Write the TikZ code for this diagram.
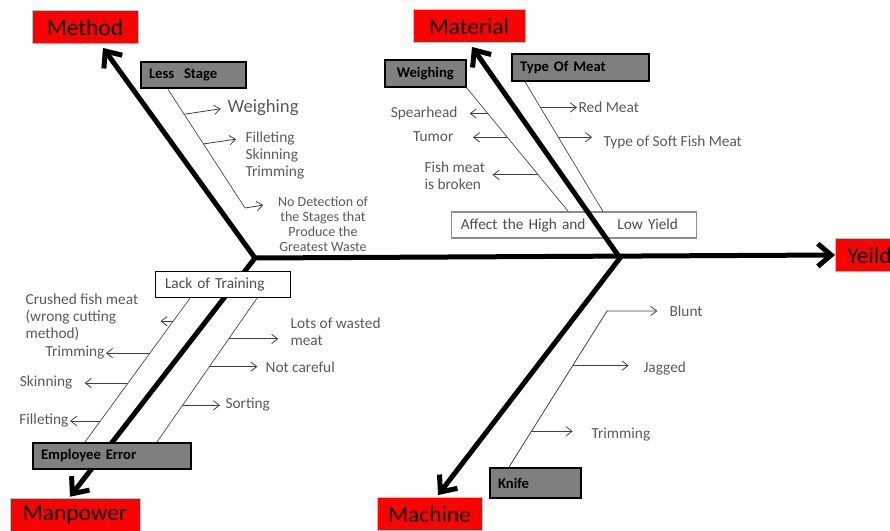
\documentclass[tikz,border=0pt]{standalone}
\usepackage{fontspec}
\setmainfont{Carlito}
\usetikzlibrary{positioning,calc,arrows.meta}
\definecolor{catred}{HTML}{FF0000}
\definecolor{subgray}{HTML}{7F7F7F}
\definecolor{txtgray}{HTML}{595959}

\begin{document}
\begin{tikzpicture}[x=0.75pt,y=-0.75pt,
  cat/.style={fill=catred,draw=black!25,font=\fontsize{17.5}{20}\selectfont,minimum height=25pt,inner sep=0pt},
  sub/.style={fill=subgray,draw=black,line width=1.5pt,font=\bfseries\fontsize{11}{13}\selectfont,minimum height=20pt,inner xsep=6pt,inner ysep=0pt,align=left},
  note/.style={draw=black!45,fill=white,line width=0.8pt,text=black!70,font=\fontsize{11.5}{13}\selectfont,minimum height=19.5pt,inner xsep=7pt,inner ysep=0pt,align=left},
  cause/.style={text=txtgray,font=\fontsize{11.5}{12.75}\selectfont,inner sep=1pt,align=left},
  bone/.style={line width=3.75pt,black},
  rib/.style={line width=0.5pt,black!75},
  twig/.style={line width=0.6pt,black!75,-{Straight Barb[length=4.5pt,width=7pt]}},
  bonetip/.style={{Straight Barb[length=10pt,width=17pt]}-{Straight Barb[length=10pt,width=17pt]}}]
  \useasboundingbox (0,0) rectangle (890,531);
  % categories
  \node[cat,minimum width=79.5pt] (method) at (85,27) {Method};
  \node[cat,minimum width=84pt] (material) at (469,26) {Material};
  \node[cat,minimum width=97.5pt] (manpower) at (75,515) {Manpower};
  \node[cat,minimum width=79pt] (machine) at (429.5,514) {Machine};
  \node[cat,anchor=west,inner xsep=9pt,text width=40pt,align=left] (yeild) at (835,255) {Yeild};
  % sub causes
  \node[sub,anchor=west,text width=66.5pt] (lessstage) at (140,75) {Less\ \ Stage};
  \node[sub,anchor=west,text width=48.5pt,align=center] (weighbox) at (384,73.5) {Weighing};
  \node[sub,anchor=west,text width=90.5pt] (meatbox) at (511,67.5) {Type Of Meat};
  \node[sub,anchor=west,text width=56.5pt,minimum height=22.5pt] (knife) at (489,483) {Knife};
  \node[note,anchor=west,text width=170pt] (affect) at (451,225) {Affect the High and\hspace{24pt}Low Yield};
  % method
  \node[cause,anchor=west,font=\fontsize{14}{16}\selectfont] (mweigh) at (226,108) {Weighing};
  \node[cause,anchor=north west] (mfillet) at (244,130) {Filleting\\Skinning\\Trimming};
  \node[cause,align=center,anchor=north,font=\fontsize{10.5}{11.25}\selectfont] (mdetect) at (323,195) {No Detection of\\the Stages that\\Produce the\\Greatest Waste};
  \coordinate (lsa) at ([xshift=21pt]lessstage.south west);
  \coordinate (lsb) at (245,208);
  \coordinate (ls1) at ($(lsa)!.21!(lsb)$);
  \coordinate (ls2) at ($(lsa)!.46!(lsb)$);
  \draw[rib] (lsa) -- (lsb);
  \draw[twig,shorten >=4pt] (ls1) -- (mweigh.west);
  \draw[twig,shorten >=6pt] (ls2) -- ([yshift=-6pt]mfillet.north west);
  \draw[twig,shorten >=10pt] (lsb) -- ([yshift=-6pt]mdetect.north west);
  % material
  \node[cause,anchor=east] (spear) at (459,113) {Spearhead};
  \node[cause,anchor=east] (tumor) at (455,137) {Tumor};
  \node[cause,anchor=north west] (fish) at (423,160) {Fish meat\\is broken};
  \node[cause,anchor=west] (redmeat) at (577,107) {Red Meat};
  \node[cause,anchor=west] (softmeat) at (602,142) {Type of Soft Fish Meat};
  \coordinate (wa) at (weighbox.south east);
  \coordinate (wb) at ([xshift=88pt]affect.north west);
  \coordinate (w1) at ($(wa)!.208!(wb)$);
  \coordinate (w2) at ($(wa)!.4!(wb)$);
  \coordinate (w3) at ($(wa)!.704!(wb)$);
  \coordinate (ta) at ([xshift=10.5pt]meatbox.south west);
  \coordinate (tb) at ([xshift=114pt]affect.north west);
  \coordinate (t1) at ($(ta)!.198!(tb)$);
  \coordinate (t2) at ($(ta)!.427!(tb)$);
  \draw[rib] (wa) -- (wb);
  \draw[rib] (ta) -- (tb);
  \draw[twig,shorten >=8pt] (w1) -- (w1 -| spear.east);
  \draw[twig,shorten >=13.5pt] (w2) -- (w2 -| tumor.east);
  \draw[twig,shorten >=4.5pt] (w3) -- (w3 -| fish.east);
  \draw[twig] (t1) -- (t1 -| redmeat.west);
  \draw[twig,shorten >=7.5pt] (t2) -- (t2 -| softmeat.west);
  % machine
  \node[cause,anchor=west] (blunt) at (668,311) {Blunt};
  \node[cause,anchor=west] (jagged) at (642,368) {Jagged};
  \node[cause,anchor=west] (ktrim) at (590,435) {Trimming};
  \coordinate (ka) at ([xshift=15pt]knife.north west);
  \coordinate (kb) at (607,311);
  \coordinate (k1) at ($(ka)!.65!(kb)$);
  \coordinate (k2) at ($(ka)!.229!(kb)$);
  \draw[twig,shorten >=8pt] (ka) -- (kb) -- (kb -| blunt.west);
  \draw[twig,shorten >=10pt] (k1) -- (k1 -| jagged.west);
  \draw[twig,shorten >=13pt] (k2) -- (k2 -| ktrim.west);
  % manpower
  \node[cause,anchor=north west] (crushed) at (24,292) {Crushed fish meat\\(wrong cutting\\method)};
  \node[cause,anchor=east] (mtrim) at (106,353) {Trimming};
  \node[cause,anchor=east] (mskin) at (74,382) {Skinning};
  \node[cause,anchor=east] (mfill) at (70,420) {Filleting};
  \node[cause,anchor=north west] (wasted) at (289,316) {Lots of wasted\\meat};
  \node[cause,anchor=west] (careful) at (264,367) {Not careful};
  \node[cause,anchor=west] (sorting) at (224,405) {Sorting};
  % bones
  \coordinate (j1) at (255,258);
  \coordinate (j2) at (620,258);
  \draw[bone,-{Straight Barb[length=10pt,width=17pt]}] (j1) -- (yeild.west);
  \draw[bone,bonetip] ([xshift=13.5pt,yshift=-3pt]method.south) -- (j1) -- ([xshift=-3.75pt,yshift=1pt]manpower.north);
  \draw[bone,bonetip] ([xshift=2.25pt,yshift=-3pt]material.south) -- (j2) -- ([xshift=6.4pt,yshift=1.5pt]machine.north);
  \node[note,anchor=west,text width=87pt,draw=black,line width=1pt] (lack) at (155,284.5) {Lack of Training};
  \node[sub,anchor=west,text width=106.5pt,minimum height=19.5pt] (emp) at (32,456) {Employee Error};
  \coordinate (la) at ([xshift=26.25pt]lack.south west);
  \coordinate (lb) at ([xshift=39.75pt]emp.north west);
  \coordinate (ra) at ([xshift=76.5pt]lack.south west);
  \coordinate (rb) at ([xshift=93.75pt]emp.north west);
  \coordinate (l1) at ($(la)!.16!(lb)$);
  \coordinate (l2) at ($(la)!.382!(lb)$);
  \coordinate (l3) at ($(la)!.59!(lb)$);
  \coordinate (l4) at ($(la)!.854!(lb)$);
  \coordinate (r1) at ($(ra)!.283!(rb)$);
  \coordinate (r2) at ($(ra)!.476!(rb)$);
  \coordinate (r3) at ($(ra)!.745!(rb)$);
  \draw[rib] (la) -- (lb);
  \draw[rib] (ra) -- (rb);
  \draw[twig,shorten >=15.5pt] (l1) -- (l1 -| crushed.east);
  \draw[twig] (l2) -- (l2 -| mtrim.east);
  \draw[twig,shorten >=8pt] (l3) -- (l3 -| mskin.east);
  \draw[twig] (l4) -- (l4 -| mfill.east);
  \draw[twig,shorten >=8pt] (r1) -- (r1 -| wasted.west);
  \draw[twig,shorten >=5pt] (r2) -- (r2 -| careful.west);
  \draw[twig,shorten >=3pt] (r3) -- (r3 -| sorting.west);
\end{tikzpicture}
\end{document}
